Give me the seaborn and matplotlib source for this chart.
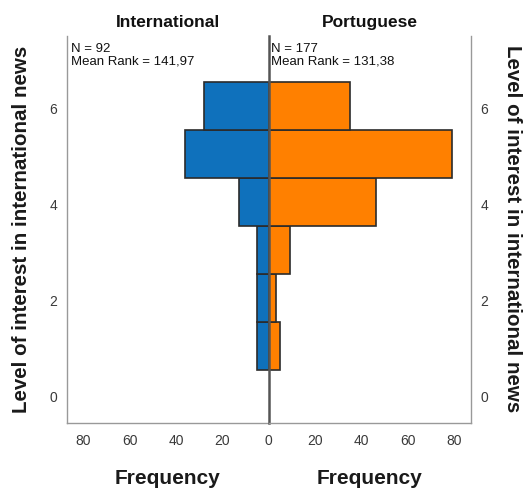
import numpy as np
import pandas as pd
import matplotlib
matplotlib.use("Agg")
import matplotlib.pyplot as plt
import seaborn as sns

# Data
levels = [1, 2, 3, 4, 5, 6]
intl_counts = [5, 5, 5, 13, 36, 28]
port_counts = [5, 3, 9, 46, 79, 35]
group_names = ["International", "Portuguese"]
n_values = [92, 177]
mean_ranks = ["141,97", "131,38"]
x_ticks = [0, 20, 40, 60, 80]
y_ticks = [0, 2, 4, 6]
bin_edges = [0.55, 1.55, 2.55, 3.55, 4.55, 5.55, 6.55]

sns.set_theme(style="white")
plt.rcParams['font.family'] = ['Liberation Sans', 'DejaVu Sans']

W, H = 523, 488
fig = plt.figure(figsize=(W / 100, H / 100), dpi=100)

def ax_rect(x0, x1, ytop, ybot):
    return [x0 / W, 1 - ybot / H, (x1 - x0) / W, (ybot - ytop) / H]

ax_l = fig.add_axes(ax_rect(67, 268.7, 36, 423))
ax_r = fig.add_axes(ax_rect(268.7, 470.7, 36, 423))

df_l = pd.DataFrame({"level": levels, "count": intl_counts})
df_r = pd.DataFrame({"level": levels, "count": port_counts})

sns.histplot(data=df_l, y="level", weights="count", bins=bin_edges, ax=ax_l,
             color="#0F71BC", alpha=1, edgecolor="#2b2b2b", linewidth=1.2)
sns.histplot(data=df_r, y="level", weights="count", bins=bin_edges, ax=ax_r,
             color="#FF8000", alpha=1, edgecolor="#2b2b2b", linewidth=1.2)

xmax = 87
ax_l.set_xlim(xmax, 0)
ax_r.set_xlim(0, xmax)
for ax in (ax_l, ax_r):
    ax.set_ylim(-0.55, 7.5)
    ax.set_xticks(x_ticks)
    ax.set_yticks(y_ticks)
    ax.tick_params(length=0, labelsize=10, labelcolor="#3a3a3a", pad=8)
    ax.spines["top"].set_visible(False)
    for s in ("left", "right", "bottom"):
        ax.spines[s].set_color("#999999")
        ax.spines[s].set_linewidth(1.0)
    ax.set_ylabel("")
    ax.set_xlabel("Frequency", fontsize=15, fontweight="bold", labelpad=15,
                  color="#1a1a1a")

ax_r.set_xticklabels(["", "20", "40", "60", "80"])
ax_l.spines["right"].set_visible(False)
ax_r.spines["left"].set_color("#555555")
ax_r.spines["left"].set_linewidth(1.8)
ax_r.spines["right"].set_visible(True)
ax_l.yaxis.tick_left()
ax_r.yaxis.tick_right()
ax_l.tick_params(axis="y", pad=7)
ax_r.tick_params(axis="y", pad=7)

for ax, name in zip((ax_l, ax_r), group_names):
    ax.set_title(name, fontsize=12.5, fontweight="bold", pad=6.5, color="#111111")

ax_l.text(0.018, 0.983, f"N = {n_values[0]}\nMean Rank = {mean_ranks[0]}",
          transform=ax_l.transAxes, ha="left", va="top", fontsize=9.5,
          linespacing=1.05, color="#111111")
ax_r.text(0.012, 0.983, f"N = {n_values[1]}\nMean Rank = {mean_ranks[1]}",
          transform=ax_r.transAxes, ha="left", va="top", fontsize=9.5,
          linespacing=1.05, color="#111111")

ylab = "Level of interest in international news"
fig.text(22 / W, 1 - 229 / H, ylab, rotation=90, ha="center", va="center",
         fontsize=14.8, fontweight="bold", color="#1a1a1a")
fig.text(512 / W, 1 - 229 / H, ylab, rotation=-90, ha="center", va="center",
         fontsize=14.8, fontweight="bold", color="#1a1a1a")

fig.savefig("out.png", dpi=100, facecolor="white")
